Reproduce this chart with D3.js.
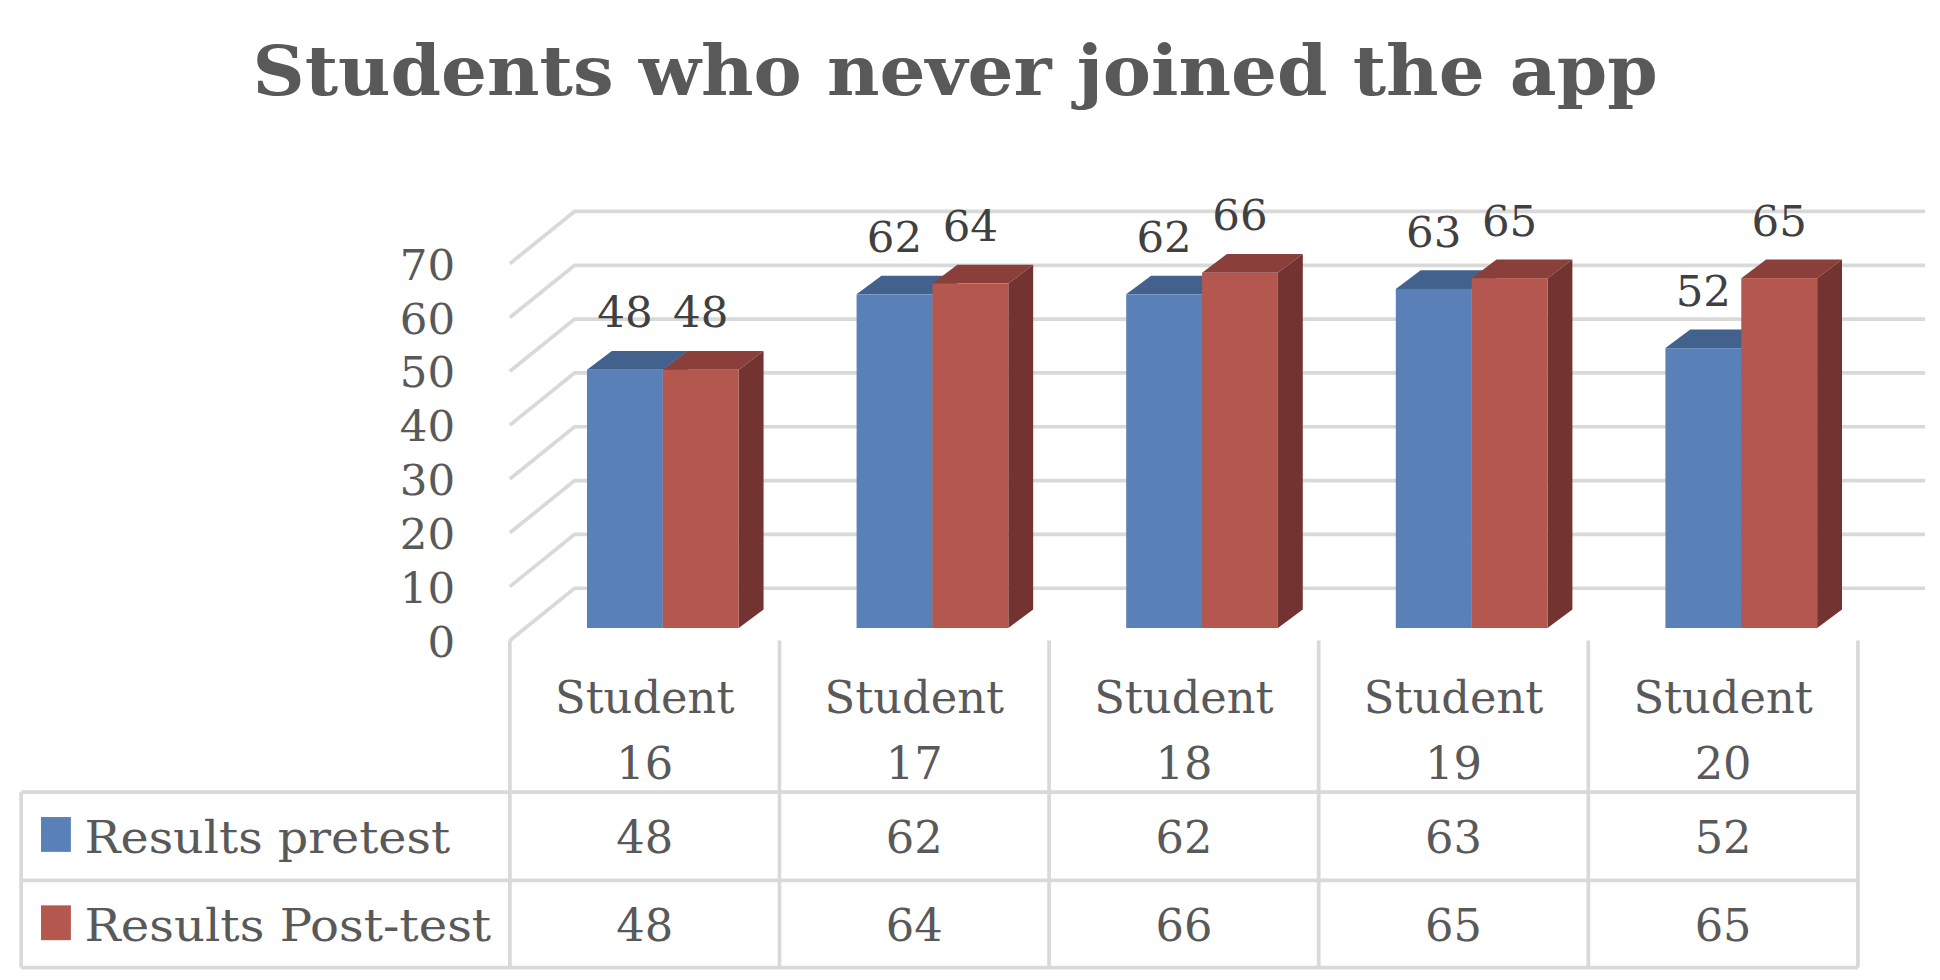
<!DOCTYPE html>
<html>
<head>
<meta charset="utf-8">
<script src="https://cdn.jsdelivr.net/npm/d3@7"></script>
<style>
  body { margin: 0; background: #fff; }
  text { font-family: "DejaVu Serif", "Liberation Serif", serif; fill: #595959; }
</style>
</head>
<body>
<svg id="chart" width="1940" height="980" viewBox="0 0 1560 788"></svg>
<script>
// chart data
var students = ["16", "17", "18", "19", "20"];
var seriesNames = ["Results pretest", "Results Post-test"];
var pretest = [48, 62, 62, 63, 52];
var posttest = [48, 64, 66, 65, 65];
var yTicks = [0, 10, 20, 30, 40, 50, 60, 70];

var series = [pretest, posttest];
var colors = [
    { front: "#5a80b8", top: "#42618d", side: "#3a557c" },
    { front: "#b3574f", top: "#8a3f3a", side: "#733431" }
];

var svg = d3.select("#chart");

// title
svg.append("text")
    .attr("x", 768).attr("y", 76)
    .attr("text-anchor", "middle")
    .attr("textLength", 1130).attr("lengthAdjust", "spacingAndGlyphs")
    .style("font-size", "56px").style("font-weight", "bold")
    .text("Students who never joined the app");

// scales
var x = d3.scaleBand().domain(students).range([410, 1494]);
var yWall = d3.scaleLinear().domain([0, 70]).range([515, 212]);  // front edge of floor/wall
var yBar = d3.scaleLinear().domain([0, 70]).range([505, 202]);
var depth = { dx: 52, dy: -42 };

// gridlines (diagonal + back wall)
var grid = svg.append("g").attr("stroke", "#d9d9d9").attr("stroke-width", 3).attr("fill", "none");
yTicks.forEach(function(t) {
    var y0 = yWall(t);
    grid.append("path")
        .attr("d", "M410," + y0 + "L" + (410 + depth.dx) + "," + (y0 + depth.dy) + "H1548");
});

// y axis labels
svg.append("g").selectAll("text").data(yTicks).enter().append("text")
    .attr("x", 366).attr("y", function(d) { return yWall(d) + 13; })
    .attr("text-anchor", "end")
    .style("font-size", "35px")
    .text(function(d) { return d; });

// bars
var bw = 61, bdx = 20, bdy = -15;
var bars = svg.append("g");
students.forEach(function(s, i) {
    series.forEach(function(vals, k) {
        var x0 = x(s) + 62 + k * bw;
        var yt = yBar(vals[i]), yb = yBar(0);
        var c = colors[k];
        bars.append("path").attr("fill", c.top)
            .attr("d", "M" + x0 + "," + yt + "l" + bdx + "," + bdy + "h" + bw + "l" + (-bdx) + "," + (-bdy) + "Z");
        bars.append("path").attr("fill", c.side)
            .attr("d", "M" + (x0 + bw) + "," + yt + "l" + bdx + "," + bdy + "V" + (yb + bdy) + "l" + (-bdx) + "," + (-bdy) + "Z");
        bars.append("rect").attr("fill", c.front)
            .attr("x", x0).attr("y", yt).attr("width", bw).attr("height", yb - yt);
        bars.append("text")
            .attr("x", x0 + bw / 2).attr("y", yt + bdy - 19)
            .attr("text-anchor", "middle")
            .style("font-size", "35px").style("fill", "#404040")
            .text(vals[i]);
    });
});

// data table
var table = svg.append("g").attr("stroke", "#d9d9d9").attr("stroke-width", 3);
var colEdges = [410].concat(students.map(function(s) { return x(s) + x.bandwidth(); }));
colEdges.forEach(function(cx) {
    table.append("line").attr("x1", cx).attr("x2", cx).attr("y1", 515).attr("y2", 778);
});
table.append("line").attr("x1", 17).attr("x2", 17).attr("y1", 637).attr("y2", 778);
[637, 708, 778].forEach(function(ry) {
    table.append("line").attr("x1", 17).attr("x2", 1494).attr("y1", ry).attr("y2", ry);
});

var cells = svg.append("g").style("font-size", "36px").attr("text-anchor", "middle");
students.forEach(function(s) {
    var cx = x(s) + x.bandwidth() / 2;
    cells.append("text").attr("x", cx).attr("y", 573).text("Student");
    cells.append("text").attr("x", cx).attr("y", 626).text(s);
});
series.forEach(function(vals, k) {
    var ry = 686 + k * 71;
    svg.append("rect").attr("x", 33).attr("y", ry - 29).attr("width", 24).attr("height", 28)
        .attr("fill", colors[k].front);
    svg.append("text").attr("x", 68).attr("y", ry).style("font-size", "36px")
        .attr("textLength", k == 0 ? 294 : 327).attr("lengthAdjust", "spacingAndGlyphs")
        .text(seriesNames[k]);
    students.forEach(function(s, i) {
        cells.append("text").attr("x", x(s) + x.bandwidth() / 2).attr("y", ry).text(vals[i]);
    });
});
</script>
</body>
</html>
